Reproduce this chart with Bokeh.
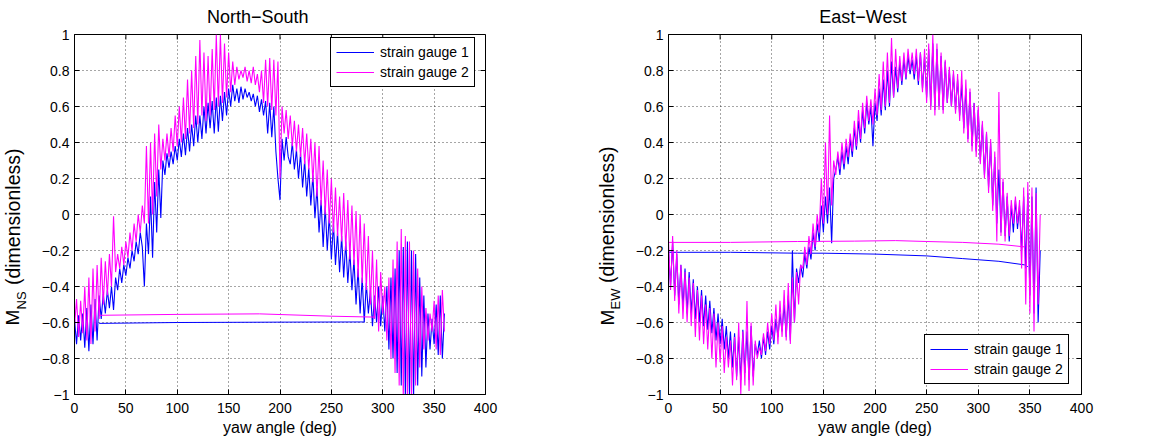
import math
from bokeh.plotting import figure
from bokeh.layouts import row, column
from bokeh.models import (Range1d, FixedTicker, Legend, LegendItem, Label)
from bokeh.embed import file_html
from bokeh.resources import INLINE

# ---------------- data ----------------
yaw = list(range(0, 362, 2))  # yaw angle samples (deg)

ns_gauge1 = [
    -0.58, -0.72, -0.56, -0.70, -0.55,
    -0.74, -0.52, -0.76, -0.50, -0.72,
    -0.47, -0.70, -0.45, -0.58, -0.44,
    -0.55, -0.42, -0.52, -0.40, -0.53,
    -0.35, -0.42, -0.30, -0.38, -0.28,
    -0.34, -0.24, -0.30, -0.20, -0.26,
    -0.15, -0.22, -0.10, -0.18, -0.40,
    -0.05, -0.22, 0.10, -0.24, 0.18,
    -0.10, 0.25, -0.02, 0.30, 0.22,
    0.34, 0.26, 0.35, 0.28, 0.38,
    0.30, 0.42, 0.32, 0.45, 0.33,
    0.48, 0.35, 0.50, 0.38, 0.55,
    0.40, 0.55, 0.42, 0.60, 0.45,
    0.62, 0.48, 0.63, 0.45, 0.65,
    0.46, 0.66, 0.52, 0.68, 0.55,
    0.70, 0.60, 0.72, 0.63, 0.70,
    0.62, 0.71, 0.64, 0.70, 0.65,
    0.68, 0.63, 0.67, 0.60, 0.66,
    0.57, 0.64, 0.55, 0.63, 0.45,
    0.62, 0.43, 0.60, 0.35, 0.20,
    0.08, 0.42, 0.30, 0.43, 0.32,
    0.28, 0.40, 0.25, 0.36, 0.20,
    0.34, 0.15, 0.30, 0.10, 0.26,
    0.05, 0.22, -0.02, 0.15, -0.10,
    0.08, -0.18, 0.05, -0.20, 0.00,
    -0.25, -0.05, -0.28, -0.10, -0.32,
    -0.12, -0.35, -0.15, -0.38, -0.20,
    -0.42, -0.25, -0.50, -0.30, -0.55,
    -0.35, -0.60, -0.38, -0.55, -0.42,
    -0.62, -0.45, -0.60, -0.40, -0.62,
    -0.45, -0.65, -0.40, -0.75, -0.35,
    -0.80, -0.30, -0.88, -0.20, -0.95,
    -0.18, -1.02, -0.15, -1.02, -0.20,
    -1.02, -0.22, -0.95, -0.35, -0.90,
    -0.45, -0.85, -0.55, -0.75, -0.58,
    -0.72, -0.50, -0.78, -0.45, -0.80,
    -0.55,
]

ns_gauge2 = [
    -0.62, -0.47, -0.68, -0.48, -0.66,
    -0.40, -0.70, -0.35, -0.72, -0.30,
    -0.65, -0.28, -0.58, -0.24, -0.50,
    -0.26, -0.45, -0.22, -0.40, -0.01,
    -0.32, -0.22, -0.30, -0.18, -0.28,
    -0.15, -0.24, -0.10, -0.20, -0.05,
    -0.15, 0.00, -0.10, 0.05, -0.05,
    0.38, -0.05, 0.40, 0.00, 0.45,
    0.10, 0.50, 0.25, 0.42, 0.30,
    0.45, 0.32, 0.48, 0.35, 0.55,
    0.38, 0.60, 0.40, 0.65, 0.42,
    0.75, 0.45, 0.80, 0.48, 0.88,
    0.50, 0.97, 0.55, 0.90, 0.52,
    0.88, 0.55, 0.92, 0.58, 1.00,
    0.60, 1.00, 0.62, 0.95, 0.65,
    0.90, 0.68, 0.85, 0.72, 0.82,
    0.75, 0.80, 0.76, 0.82, 0.74,
    0.80, 0.73, 0.82, 0.72, 0.78,
    0.68, 0.80, 0.62, 0.86, 0.60,
    0.87, 0.58, 0.86, 0.55, 0.85,
    0.20, 0.60, 0.45, 0.58, 0.42,
    0.55, 0.38, 0.52, 0.35, 0.50,
    0.32, 0.48, 0.28, 0.45, 0.25,
    0.42, 0.18, 0.40, 0.10, 0.38,
    0.05, 0.30, 0.00, 0.25, -0.05,
    0.20, -0.10, 0.15, -0.12, 0.10,
    -0.15, 0.12, -0.20, 0.08, -0.25,
    0.05, -0.28, 0.02, -0.35, 0.00,
    -0.38, -0.05, -0.42, -0.12, -0.50,
    -0.20, -0.58, -0.25, -0.65, -0.32,
    -0.55, -0.40, -0.70, -0.35, -0.80,
    -0.25, -0.88, -0.15, -0.95, -0.08,
    -1.02, -0.12, -1.02, -0.15, -1.02,
    -0.20, -0.95, -0.30, -0.85, -0.40,
    -0.75, -0.52, -0.70, -0.55, -0.65,
    -0.48, -0.75, -0.45, -0.78, -0.42,
    -0.65,
]

ew_gauge1 = [
    -0.20, -0.40, -0.15, -0.45, -0.22,
    -0.50, -0.28, -0.52, -0.30, -0.55,
    -0.32, -0.55, -0.36, -0.58, -0.40,
    -0.60, -0.42, -0.62, -0.45, -0.64,
    -0.48, -0.66, -0.52, -0.70, -0.55,
    -0.72, -0.58, -0.75, -0.62, -0.80,
    -0.65, -0.85, -0.66, -0.90, -0.68,
    -0.92, -0.64, -0.88, -0.65, -0.92,
    -0.62, -0.90, -0.72, -0.78, -0.70,
    -0.80, -0.68, -0.78, -0.65, -0.75,
    -0.62, -0.72, -0.58, -0.68, -0.55,
    -0.65, -0.50, -0.68, -0.45, -0.70,
    -0.20, -0.60, -0.30, -0.38, -0.28,
    -0.35, -0.22, -0.30, -0.18, -0.25,
    -0.10, -0.20, -0.05, -0.15, 0.05,
    -0.10, 0.10, -0.05, 0.15, -0.16,
    0.20, 0.25, 0.32, 0.22, 0.35,
    0.25, 0.38, 0.28, 0.42, 0.32,
    0.48, 0.36, 0.52, 0.40, 0.58,
    0.45, 0.62, 0.50, 0.60, 0.38,
    0.62, 0.52, 0.70, 0.55, 0.75,
    0.58, 0.80, 0.60, 0.85, 0.65,
    0.82, 0.68, 0.84, 0.72, 0.86,
    0.75, 0.88, 0.78, 0.86, 0.75,
    0.88, 0.72, 0.90, 0.70, 0.88,
    0.65, 0.92, 0.60, 0.95, 0.58,
    0.92, 0.60, 0.88, 0.58, 0.85,
    0.62, 0.80, 0.60, 0.78, 0.58,
    0.75, 0.55, 0.72, 0.48, 0.70,
    0.42, 0.68, 0.38, 0.62, 0.35,
    0.58, 0.30, 0.50, 0.22, 0.45,
    0.15, 0.40, 0.05, 0.32, -0.05,
    0.25, -0.10, 0.18, -0.12, 0.10,
    -0.15, 0.05, -0.10, 0.08, -0.08,
    0.05, -0.20, 0.10, -0.30, 0.12,
    -0.45, 0.10, -0.55, 0.15, -0.60,
    -0.20,
]

ew_gauge2 = [
    -0.15, -0.42, -0.12, -0.48, -0.20,
    -0.55, -0.28, -0.58, -0.32, -0.60,
    -0.35, -0.62, -0.38, -0.68, -0.42,
    -0.70, -0.45, -0.72, -0.50, -0.75,
    -0.52, -0.80, -0.55, -0.85, -0.60,
    -0.82, -0.62, -0.88, -0.68, -0.85,
    -0.70, -0.95, -0.68, -0.92, -0.60,
    -1.00, -0.65, -0.95, -0.48, -0.98,
    -0.60, -0.95, -0.70, -0.80, -0.74,
    -0.78, -0.66, -0.76, -0.60, -0.72,
    -0.55, -0.70, -0.50, -0.72, -0.48,
    -0.68, -0.42, -0.70, -0.38, -0.72,
    -0.35, -0.60, -0.32, -0.50, -0.28,
    -0.30, -0.18, -0.28, -0.12, -0.22,
    -0.05, -0.18, 0.00, -0.10, 0.20,
    -0.05, 0.40, 0.00, 0.55, 0.05,
    0.30, 0.22, 0.35, 0.25, 0.40,
    0.28, 0.42, 0.32, 0.45, 0.35,
    0.52, 0.38, 0.58, 0.42, 0.62,
    0.48, 0.66, 0.52, 0.64, 0.50,
    0.70, 0.55, 0.78, 0.58, 0.85,
    0.60, 0.90, 0.62, 0.98, 0.65,
    0.92, 0.70, 0.88, 0.74, 0.90,
    0.76, 0.92, 0.80, 0.90, 0.78,
    0.92, 0.74, 0.90, 0.68, 0.92,
    0.62, 0.95, 0.58, 1.00, 0.55,
    0.95, 0.58, 0.90, 0.56, 0.86,
    0.62, 0.82, 0.60, 0.80, 0.56,
    0.78, 0.52, 0.80, 0.45, 0.75,
    0.40, 0.70, 0.35, 0.62, 0.32,
    0.60, 0.28, 0.52, 0.20, 0.46,
    0.12, 0.42, 0.02, 0.35, -0.15,
    0.68, -0.12, 0.20, -0.15, 0.12,
    -0.12, 0.08, -0.05, 0.10, -0.05,
    0.08, -0.30, 0.15, -0.50, 0.18,
    -0.55, 0.15, -0.65, 0.12, -0.50,
    0.00,
]

# slow return segments (yaw jump back)
ns_flat1_x = [24, 100, 200, 282]
ns_flat1_y = [-0.605, -0.600, -0.598, -0.597]
ns_flat2_x = [24, 100, 180, 250, 292]
ns_flat2_y = [-0.560, -0.555, -0.552, -0.565, -0.570]

ew_flat1_x = [0, 60, 125, 150, 200, 250, 285, 320, 345, 348]
ew_flat1_y = [-0.21, -0.21, -0.215, -0.215, -0.22, -0.23, -0.245, -0.26, -0.28, -0.29]
ew_flat2_x = [0, 60, 125, 180, 220, 250, 285, 320, 345]
ew_flat2_y = [-0.155, -0.155, -0.15, -0.148, -0.145, -0.15, -0.155, -0.165, -0.18]

x_ticks = [0, 50, 100, 150, 200, 250, 300, 350, 400]
y_ticks = [-1, -0.8, -0.6, -0.4, -0.2, 0, 0.2, 0.4, 0.6, 0.8, 1]
y_tick_labels = ["\u22121", "\u22120.8", "\u22120.6", "\u22120.4", "\u22120.2", "0",
                 "0.2", "0.4", "0.6", "0.8", "1"]
series_labels = ["strain gauge 1", "strain gauge 2"]
titles = ["North\u2212South", "East\u2212West"]
colors = ["#0000ff", "#ff00ff"]

FONT = "Liberation Sans"
H = 441
TSTRIP = 26          # height of the title strip
PTOP = 8             # panel border above the frame
X0, X1, Y0, Y1 = 0, 400, -1, 1


def make_panel(g1, g2, f1x, f1y, f2x, f2y, legend_loc, left_border, frame_w, right_border):
    p = figure(frame_width=frame_w, frame_height=360, output_backend="svg", toolbar_location=None,
               x_range=Range1d(X0, X1), y_range=Range1d(Y0, Y1),
               min_border_left=left_border, min_border_right=right_border,
               min_border_top=PTOP, min_border_bottom=H - TSTRIP - PTOP - 360)
    p.outline_line_color = "#000000"
    p.outline_line_width = 1
    p.outline_line_alpha = 1
    p.background_fill_color = "#ffffff"
    p.border_fill_color = "#ffffff"

    yover = {t: s for t, s in zip(y_ticks, y_tick_labels)}
    for ax in (p.xaxis[0], p.yaxis[0]):
        ax.major_label_text_font = FONT
        ax.major_label_text_font_size = "14px"
        ax.major_label_text_color = "#000000"
        ax.major_tick_in = 5
        ax.major_tick_out = 0
        ax.minor_tick_in = 0
        ax.minor_tick_out = 0
        ax.axis_line_color = "#000000"
        ax.major_tick_line_color = "#000000"
    p.xaxis.ticker = FixedTicker(ticks=x_ticks)
    p.yaxis.ticker = FixedTicker(ticks=y_ticks)
    p.yaxis.major_label_overrides = yover
    p.xaxis.major_label_standoff = 8
    p.yaxis.major_label_standoff = 5
    p.xaxis.axis_label = "yaw angle (deg)"
    p.xaxis.axis_label_text_font = FONT
    p.xaxis.axis_label_text_font_size = "16px"
    p.xaxis.axis_label_text_font_style = "normal"
    p.xaxis.axis_label_text_color = "#000000"
    p.xaxis.axis_label_standoff = 3

    p.xgrid.ticker = FixedTicker(ticks=x_ticks)
    p.ygrid.ticker = FixedTicker(ticks=y_ticks)
    for g in (p.xgrid[0], p.ygrid[0]):
        g.grid_line_color = "#000000"
        g.grid_line_alpha = 0.7
        g.grid_line_dash = "1 3"
        g.grid_line_width = 1

    # inward tick marks on the top and right edges of the box (5 px long)
    dy = 5 * (Y1 - Y0) / 360.0
    dx = 5 * (X1 - X0) / float(frame_w)
    p.segment(x0=x_ticks, y0=[Y1] * len(x_ticks), x1=x_ticks, y1=[Y1 - dy] * len(x_ticks),
              line_color="#000000", line_width=1)
    p.segment(x0=[X1] * len(y_ticks), y0=y_ticks, x1=[X1 - dx] * len(y_ticks), y1=y_ticks,
              line_color="#000000", line_width=1)

    r1 = p.line(yaw, g1, line_color=colors[0], line_width=1.1)
    p.line(f1x, f1y, line_color=colors[0], line_width=1)
    r2 = p.line(yaw, g2, line_color=colors[1], line_width=1.1)
    p.line(f2x, f2y, line_color=colors[1], line_width=1)

    legend = Legend(items=[LegendItem(label=series_labels[0], renderers=[r1]),
                           LegendItem(label=series_labels[1], renderers=[r2])],
                    location=legend_loc)
    legend.label_text_font = FONT
    legend.label_text_font_size = "14px"
    legend.label_text_color = "#000000"
    legend.glyph_width = 38
    legend.glyph_height = 18
    legend.label_height = 18
    legend.label_standoff = 6
    legend.spacing = 2
    legend.padding = 5
    legend.margin = 0
    legend.border_line_color = "#000000"
    legend.border_line_width = 1
    legend.border_line_alpha = 1
    legend.background_fill_alpha = 1
    p.add_layout(legend, "center")
    return p


def make_title(text, width, center_x):
    # strip above a panel that carries its title
    t = figure(width=width, height=TSTRIP, output_backend="svg", toolbar_location=None,
               x_range=Range1d(0, width), y_range=Range1d(0, TSTRIP),
               x_axis_type=None, y_axis_type=None, min_border=0)
    t.outline_line_color = None
    t.grid.visible = False
    t.background_fill_color = "#ffffff"
    t.border_fill_color = "#ffffff"
    t.add_layout(Label(x=center_x, y=TSTRIP - 20.5 + 4.5, text=text, text_font=FONT,
                       text_font_size="18px", text_align="center",
                       text_baseline="alphabetic", text_color="#000000"))
    return t


def make_ylabel(width, sub, base_x, sub_x):
    # narrow strip that carries the rotated y-axis label with its subscript
    s = figure(width=width, height=H, output_backend="svg", toolbar_location=None,
               x_range=Range1d(0, width), y_range=Range1d(0, H),
               x_axis_type=None, y_axis_type=None, min_border=0)
    s.outline_line_color = None
    s.grid.visible = False
    s.background_fill_color = "#ffffff"
    s.border_fill_color = "#ffffff"
    y0 = H - 303 - 22
    s.add_layout(Label(x=base_x, y=y0, text="M", angle=math.pi / 2,
                       text_font=FONT, text_font_size="19px", text_align="left",
                       text_baseline="alphabetic", text_color="#000000"))
    s.add_layout(Label(x=sub_x, y=y0 + 16, text=sub, angle=math.pi / 2,
                       text_font=FONT, text_font_size="13px", text_align="left",
                       text_baseline="alphabetic", text_color="#000000"))
    sub_w = 19 if sub == "NS" else 21
    s.add_layout(Label(x=base_x, y=y0 + 16 + sub_w, text="\u00a0(dimensionless)",
                       angle=math.pi / 2,
                       text_font=FONT, text_font_size="19.5px", text_align="left",
                       text_baseline="alphabetic", text_color="#000000"))
    return s


W1 = 35 + 411 + 92
W2 = 41 + 413 + 72

lab1 = make_ylabel(38, "NS", 12, 21)
t1 = make_title(titles[0], W1, 35 + 411 / 2.0)
p1 = make_panel(ns_gauge1, ns_gauge2, ns_flat1_x, ns_flat1_y, ns_flat2_x, ns_flat2_y,
                (256, 307), 35, 411, 92)
lab2 = make_ylabel(50, "EW", 29.5, 38)
t2 = make_title(titles[1], W2, 41 + 413 / 2.0)
p2 = make_panel(ew_gauge1, ew_gauge2, ew_flat1_x, ew_flat1_y, ew_flat2_x, ew_flat2_y,
                (256, 10), 41, 413, 72)

layout = row(lab1, column(t1, p1), lab2, column(t2, p2))
open("out.html", "w").write(file_html(layout, INLINE))
